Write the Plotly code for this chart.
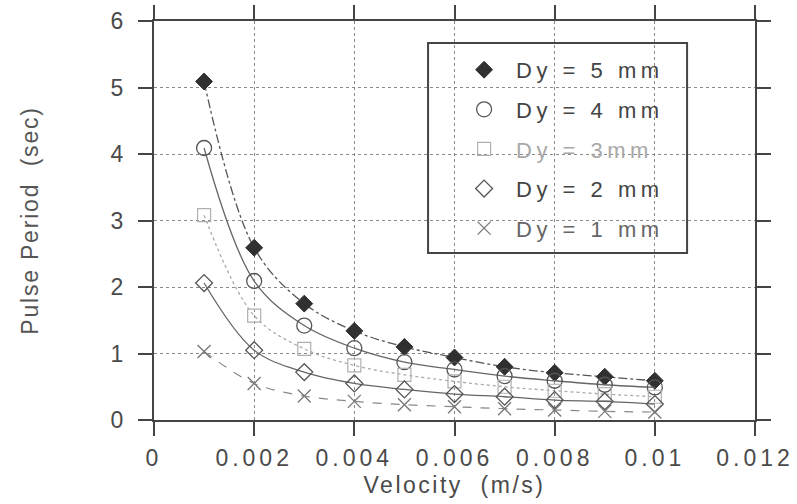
import plotly.graph_objects as go

velocity = [0.001, 0.002, 0.003, 0.004, 0.005, 0.006, 0.007, 0.008, 0.009, 0.010]
dy5 = [5.09, 2.59, 1.75, 1.34, 1.10, 0.94, 0.80, 0.71, 0.65, 0.59]
dy4 = [4.09, 2.09, 1.42, 1.08, 0.87, 0.76, 0.66, 0.59, 0.53, 0.49]
dy3 = [3.08, 1.57, 1.07, 0.82, 0.68, 0.58, 0.50, 0.44, 0.39, 0.35]
dy2 = [2.06, 1.05, 0.72, 0.55, 0.46, 0.39, 0.35, 0.30, 0.28, 0.24]
dy1 = [1.03, 0.55, 0.36, 0.28, 0.23, 0.20, 0.17, 0.15, 0.13, 0.12]

series_names = ["Dy = 5 mm", "Dy = 4 mm", "Dy = 3mm", "Dy = 2 mm", "Dy = 1 mm"]
x_tickvals = [0, 0.002, 0.004, 0.006, 0.008, 0.010, 0.012]
x_ticklabels = ["0", "0.002", "0.004", "0.006", "0.008", "0.01", "0.012"]
y_tickvals = [0, 1, 2, 3, 4, 5, 6]
y_ticklabels = ["0", "1", "2", "3", "4", "5", "6"]

FONT = "Liberation Sans, Arial, sans-serif"
AX = "#444444"
TXT = "#4a4a4a"

def ls(s, px):
    return f'<span style="letter-spacing:{px}px">{s}</span>'

styles = [
    dict(data=dy5, sym="diamond", msize=13, mcol="#303030", mline=1, lcol="#555555", dash="dashdot", lw=1.3, tcol="#444444"),
    dict(data=dy4, sym="circle-open", msize=15, mcol="#555555", mline=1.3, lcol="#666666", dash="solid", lw=1.3, tcol="#444444"),
    dict(data=dy3, sym="square-open", msize=13, mcol="#b0b0b0", mline=1.2, lcol="#aaaaaa", dash="dot", lw=1.3, tcol="#a8a8a8"),
    dict(data=dy2, sym="diamond-open", msize=13, mcol="#555555", mline=1.3, lcol="#666666", dash="solid", lw=1.3, tcol="#444444"),
    dict(data=dy1, sym="x-thin-open", msize=13, mcol="#777777", mline=1.3, lcol="#888888", dash="dash", lw=1.2, tcol="#666666"),
]

fig = go.Figure()
for i, (name, st) in enumerate(zip(series_names, styles)):
    fig.add_trace(go.Scatter(
        x=velocity, y=st["data"], mode="lines", showlegend=False,
        line=dict(color=st["lcol"], width=st["lw"], dash=st["dash"], shape="spline", smoothing=1.0),
        legendgroup=f"g{i}", hoverinfo="skip"))
    fig.add_trace(go.Scatter(
        x=velocity, y=st["data"], mode="markers", legendgroup=f"g{i}",
        name=f'<span style="fill:{st["tcol"]};letter-spacing:4.5px">{name}</span>',
        marker=dict(symbol=st["sym"], size=st["msize"], color=st["mcol"],
                    line=dict(color=st["mcol"], width=st["mline"]))))

axis_common = dict(
    showline=True, linecolor=AX, linewidth=2, mirror="ticks",
    ticks="outside", ticklen=14, tickwidth=2, tickcolor=AX,
    showgrid=True, gridcolor="#8a8a8a", gridwidth=1, griddash="dot",
    zeroline=False, tickfont=dict(family=FONT, size=23, color=TXT),
)

fig.update_layout(
    width=797, height=504,
    margin=dict(l=154, r=42, t=21, b=84, autoexpand=False),
    paper_bgcolor="white", plot_bgcolor="white",
    font=dict(family=FONT, color=TXT),
    xaxis=dict(range=[0, 0.012], tickvals=x_tickvals,
               ticktext=[ls(t, 4) for t in x_ticklabels],
               title=dict(text=ls("Velocity&nbsp;&nbsp;(m/s)", 2.5), font=dict(size=23, color=TXT), standoff=7),
               ticklabelstandoff=2, **axis_common),
    yaxis=dict(range=[0, 6], tickvals=y_tickvals, ticktext=y_ticklabels,
               title=dict(text=ls("Pulse Period&nbsp;&nbsp;(sec)", 1.8), font=dict(size=23, color="#555555"), standoff=66),
               ticklabelstandoff=10, **axis_common),
    legend=dict(x=0.496, y=0.93, xanchor="left", yanchor="top",
                bgcolor="rgba(0,0,0,0)", borderwidth=0,
                font=dict(family=FONT, size=22, color="#444444"),
                itemwidth=54, tracegroupgap=8),
    shapes=[dict(type="rect", xref="paper", yref="paper",
                 x0=0.456, x1=0.887, y0=0.4185, y1=0.945,
                 line=dict(color=AX, width=2), fillcolor="rgba(0,0,0,0)")],
)

fig.write_html("out.html")
